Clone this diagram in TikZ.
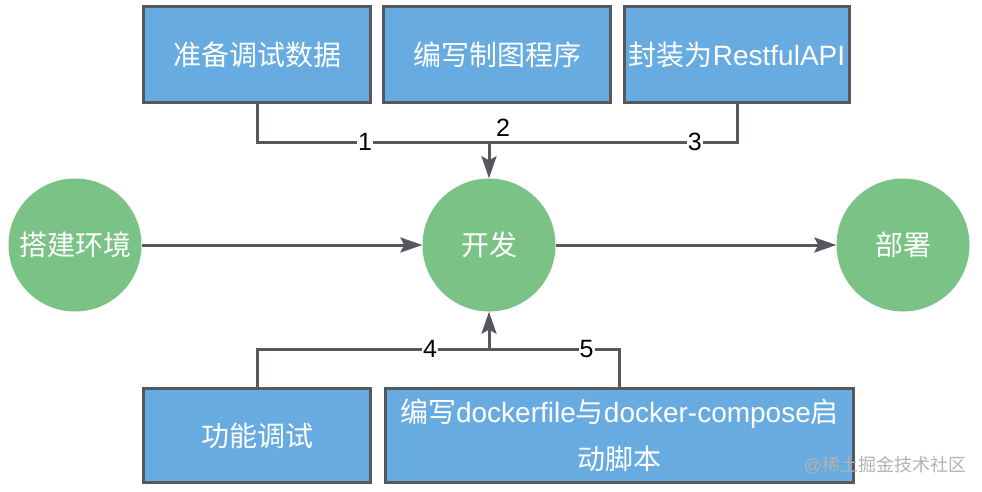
\documentclass[tikz,border=0pt]{standalone}
\usepackage{fontspec}
\setmainfont{Liberation Sans}
\newfontfamily\cjk{Noto Sans CJK SC}
\usetikzlibrary{arrows.meta}
\definecolor{boxblue}{RGB}{103,171,224}
\definecolor{nodegreen}{RGB}{122,194,133}
\definecolor{edgegray}{RGB}{85,88,92}
\begin{document}
\begin{tikzpicture}[x=1pt,y=-1pt,
  box/.style={draw=edgegray, line width=3pt, fill=boxblue, text=white,
    font=\fontsize{28}{47}\selectfont, inner sep=0pt, align=center,
    minimum width=227pt, minimum height=96pt},
  stage/.style={circle, fill=nodegreen, text=white, font=\fontsize{28}{32}\selectfont,
    inner sep=0pt, minimum size=133pt},
  conn/.style={draw=edgegray, line width=3pt},
  arr/.style={conn, -{Stealth[length=22pt,width=15pt,inset=4pt]}},
  lbl/.style={fill=white, inner sep=1pt, text=black, font=\fontsize{25}{25}\selectfont}
]
\useasboundingbox (0,0) rectangle (982,491);

% stages
\node[stage] (env) at (75,245) {\cjk 搭建环境};
\node[stage] (dev) at (489,245) {\cjk 开发};
\node[stage] (dep) at (903,245) {\cjk 部署};

% top boxes
\node[box] (b1) at (257,54.5) {\cjk 准备调试数据};
\node[box] (b2) at (497,54.5) {\cjk 编写制图程序};
\node[box, minimum width=225pt] (b3) at (737,54.5) {{\cjk 封装为}RestfulAPI};

% bottom boxes
\node[box, minimum height=94pt] (b4) at (257,435.5) {\cjk 功能调试};
\node[box, minimum width=468pt, minimum height=94pt] (b5) at (619.5,435.5)
  {{\cjk 编写}dockerfile{\cjk 与}docker-compose{\cjk 启}\\{\cjk 动脚本}};

% junctions
\coordinate (jt) at (489,142);
\coordinate (jb) at (489,349);

% main flow
\draw[arr] (env) -- (dev);
\draw[arr] (dev) -- (dep);

% top connectors
\draw[conn] (b1.south) |- (jt) node[lbl, pos=0.733] {1};
\draw[conn] (b3.south) |- (jt) node[lbl, pos=0.585] {3};
\draw[arr] (jt) -- (dev.north) node[pos=0, xshift=14pt, yshift=14pt, inner sep=0pt, font=\fontsize{25}{25}\selectfont] {2};

% bottom connectors
\draw[conn] (b4.north) |- (jb) node[lbl, pos=0.873] {4};
\draw[conn] (b5.north) |- (jb) node[lbl, pos=0.626] {5};
\draw[arr] (jb) -- (dev.south);

% watermark
\node[text=black!30, font=\fontsize{18}{18}\selectfont] (wm) at (885,465) {@{\cjk 稀土掘金技术社区}};
\end{tikzpicture}
\end{document}
